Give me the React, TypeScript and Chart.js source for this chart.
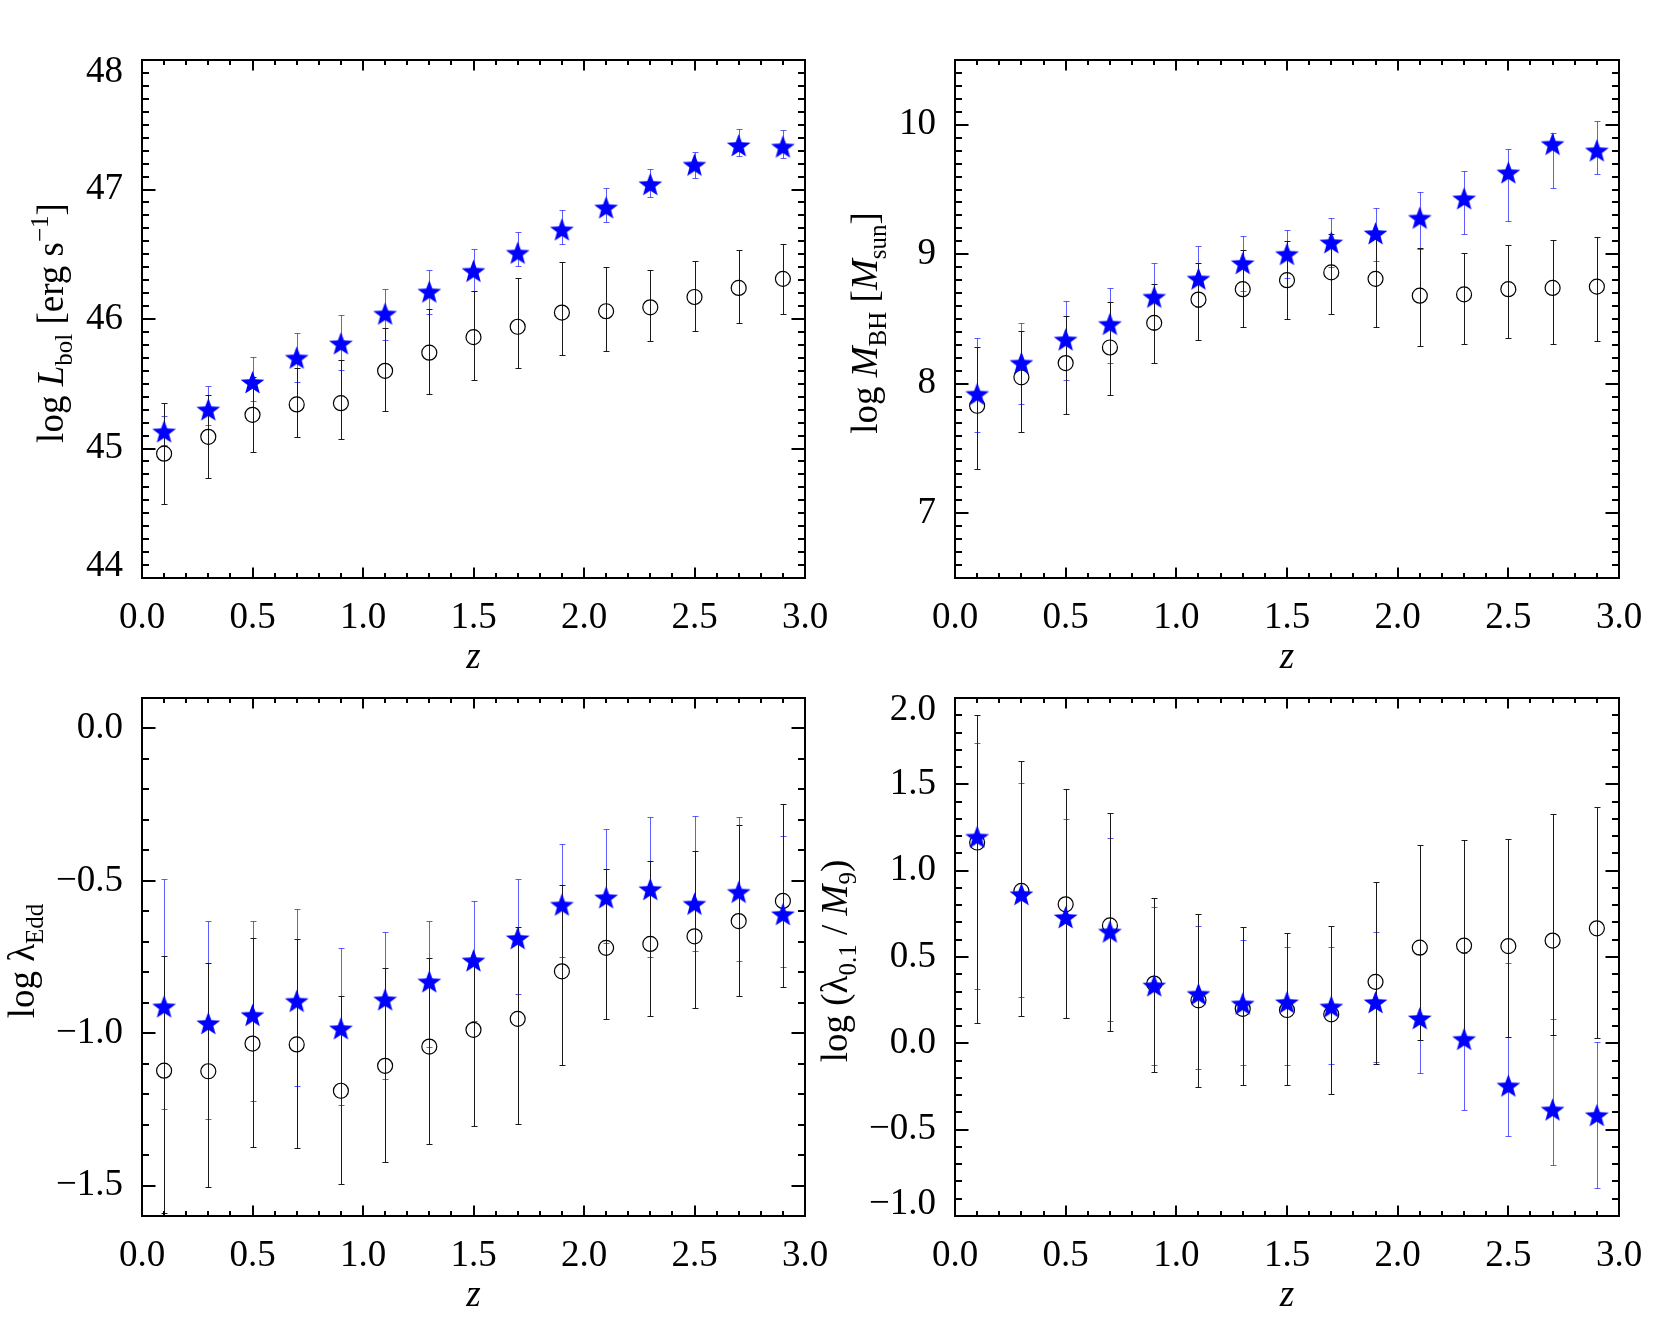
import React, { useEffect, useRef } from 'react';
import { Chart, registerables } from 'chart.js';

Chart.register(...registerables);

// ---------------- data ----------------
const Z = [0.1, 0.3, 0.5, 0.7, 0.9, 1.1, 1.3, 1.5, 1.7, 1.9, 2.1, 2.3, 2.5, 2.7, 2.9];

// log L_bol
const LBOL_QSO = [45.13, 45.30, 45.51, 45.70, 45.81, 46.04, 46.21, 46.37, 46.51, 46.69, 46.86, 47.04, 47.19, 47.34, 47.33];
const LBOL_QSO_LO = [45.03, 45.18, 45.37, 45.51, 45.61, 45.84, 46.04, 46.22, 46.41, 46.58, 46.75, 46.94, 47.09, 47.26, 47.24];
const LBOL_QSO_HI = [45.25, 45.48, 45.71, 45.89, 46.03, 46.23, 46.38, 46.54, 46.67, 46.84, 47.01, 47.16, 47.29, 47.47, 47.46];
const LBOL_ALL = [44.96, 45.09, 45.26, 45.34, 45.35, 45.60, 45.74, 45.86, 45.94, 46.05, 46.06, 46.09, 46.17, 46.24, 46.31];
const LBOL_ALL_LO = [44.57, 44.77, 44.97, 45.09, 45.07, 45.29, 45.42, 45.53, 45.62, 45.72, 45.75, 45.83, 45.91, 45.97, 46.04];
const LBOL_ALL_HI = [45.35, 45.41, 45.55, 45.62, 45.68, 45.93, 46.08, 46.22, 46.32, 46.44, 46.40, 46.38, 46.45, 46.53, 46.58];

// log M_BH
const MBH_QSO = [7.92, 8.16, 8.34, 8.46, 8.67, 8.81, 8.93, 9.00, 9.09, 9.16, 9.28, 9.43, 9.63, 9.85, 9.80];
const MBH_QSO_LO = [7.63, 7.84, 8.03, 8.16, 8.42, 8.59, 8.72, 8.82, 8.90, 8.95, 9.04, 9.16, 9.26, 9.51, 9.62];
const MBH_QSO_HI = [8.35, 8.47, 8.64, 8.74, 8.93, 9.06, 9.14, 9.19, 9.28, 9.36, 9.48, 9.64, 9.81, 9.94, 10.03];
const MBH_ALL = [7.83, 8.05, 8.16, 8.28, 8.47, 8.65, 8.73, 8.80, 8.86, 8.81, 8.68, 8.69, 8.73, 8.74, 8.75];
const MBH_ALL_LO = [7.34, 7.63, 7.77, 7.91, 8.16, 8.34, 8.44, 8.50, 8.54, 8.44, 8.29, 8.31, 8.35, 8.31, 8.33];
const MBH_ALL_HI = [8.28, 8.41, 8.52, 8.63, 8.77, 8.93, 9.03, 9.10, 9.16, 9.18, 9.05, 9.01, 9.07, 9.11, 9.13];

// log lambda_Edd
const EDD_QSO = [-0.913, -0.968, -0.941, -0.895, -0.985, -0.890, -0.831, -0.762, -0.689, -0.579, -0.555, -0.528, -0.576, -0.537, -0.610];
const EDD_QSO_LO = [-1.250, -1.282, -1.223, -1.172, -1.237, -1.150, -1.047, -0.961, -0.873, -0.749, -0.704, -0.750, -0.730, -0.764, -0.784];
const EDD_QSO_HI = [-0.493, -0.632, -0.632, -0.594, -0.722, -0.668, -0.632, -0.566, -0.493, -0.379, -0.331, -0.292, -0.286, -0.289, -0.353];
const EDD_ALL = [-1.123, -1.125, -1.034, -1.037, -1.189, -1.107, -1.044, -0.989, -0.953, -0.797, -0.720, -0.707, -0.682, -0.632, -0.566];
const EDD_ALL_LO = [-1.590, -1.506, -1.372, -1.377, -1.494, -1.423, -1.365, -1.303, -1.299, -1.103, -0.952, -0.945, -0.917, -0.879, -0.847];
const EDD_ALL_HI = [-0.748, -0.771, -0.687, -0.690, -0.879, -0.785, -0.753, -0.752, -0.652, -0.514, -0.460, -0.435, -0.402, -0.317, -0.247];

// log (lambda_0.1 / M_9)
const RATIO_QSO = [1.195, 0.863, 0.729, 0.646, 0.334, 0.285, 0.229, 0.237, 0.212, 0.237, 0.144, 0.024, -0.246, -0.385, -0.417];
const RATIO_QSO_LO = [0.317, 0.266, 0.149, 0.132, -0.124, -0.146, -0.124, -0.124, -0.117, -0.110, -0.171, -0.388, -0.537, -0.702, -0.837];
const RATIO_QSO_HI = [1.737, 1.505, 1.300, 1.188, 0.790, 0.678, 0.598, 0.559, 0.559, 0.644, 0.520, 0.524, 0.463, 0.139, 0.005];
const RATIO_ALL = [1.163, 0.883, 0.805, 0.683, 0.346, 0.249, 0.200, 0.193, 0.168, 0.356, 0.554, 0.566, 0.563, 0.595, 0.666];
const RATIO_ALL_LO = [0.120, 0.156, 0.149, 0.071, -0.166, -0.251, -0.244, -0.239, -0.295, -0.117, 0.020, 0.000, 0.034, 0.046, 0.029];
const RATIO_ALL_HI = [1.902, 1.637, 1.471, 1.332, 0.844, 0.751, 0.676, 0.637, 0.678, 0.937, 1.151, 1.176, 1.183, 1.329, 1.371];

// ticks
const X_TICKS = [0.0, 0.5, 1.0, 1.5, 2.0, 2.5, 3.0];
const Y_TICKS_LBOL = [44, 45, 46, 47, 48];
const Y_TICKS_MBH = [7, 8, 9, 10];
const Y_TICKS_EDD = [-1.5, -1.0, -0.5, 0.0];
const Y_TICKS_RATIO = [-1.0, -0.5, 0.0, 0.5, 1.0, 1.5, 2.0];

const X_TITLE = 'z';

type Seg = { t: string; it?: boolean; sub?: boolean; sup?: boolean };
const TITLE_LBOL: Seg[] = [{ t: 'log ' }, { t: 'L', it: true }, { t: 'bol', sub: true }, { t: ' [erg s' }, { t: '−1', sup: true }, { t: ']' }];
const TITLE_MBH: Seg[] = [{ t: 'log ' }, { t: 'M', it: true }, { t: 'BH', sub: true }, { t: ' [' }, { t: 'M', it: true }, { t: 'sun', sub: true }, { t: ']' }];
const TITLE_EDD: Seg[] = [{ t: 'log λ' }, { t: 'Edd', sub: true }];
const TITLE_RATIO: Seg[] = [{ t: 'log (λ' }, { t: '0.1', sub: true }, { t: ' / ' }, { t: 'M', it: true }, { t: '9', sub: true }, { t: ')' }];

// ---------------- style / layout ----------------
const FONT = '"Liberation Serif", "DejaVu Serif", serif';
const TICK_SIZE = 37;
const TITLE_SIZE = 37;
const SUB_SIZE = 25;
const STAR_COLOR = '#0000ff';
const STAR_ERR = 'rgba(40,40,255,0.75)';
const ALL_ERR = '#1a1a1a';

interface Panel {
  x: number; y: number; w: number; h: number;
  fl: number; ft: number; fr: number; fb: number;
  yMin: number; yMax: number; yTicks: number[]; yDec: number;
  title: Seg[]; titleX: number;
  qso: number[]; qsoLo: number[]; qsoHi: number[];
  all: number[]; allLo: number[]; allHi: number[];
}

const PANELS: Panel[] = [
  { x: 0, y: 0, w: 830, h: 700, fl: 142, ft: 60, fr: 805, fb: 578,
    yMin: 44, yMax: 48, yTicks: Y_TICKS_LBOL, yDec: 0, title: TITLE_LBOL, titleX: 63,
    qso: LBOL_QSO, qsoLo: LBOL_QSO_LO, qsoHi: LBOL_QSO_HI, all: LBOL_ALL, allLo: LBOL_ALL_LO, allHi: LBOL_ALL_HI },
  { x: 790, y: 0, w: 871, h: 700, fl: 165, ft: 60, fr: 829, fb: 578,
    yMin: 6.5, yMax: 10.5, yTicks: Y_TICKS_MBH, yDec: 0, title: TITLE_MBH, titleX: 87,
    qso: MBH_QSO, qsoLo: MBH_QSO_LO, qsoHi: MBH_QSO_HI, all: MBH_ALL, allLo: MBH_ALL_LO, allHi: MBH_ALL_HI },
  { x: 0, y: 664, w: 830, h: 665, fl: 142, ft: 34, fr: 805, fb: 552,
    yMin: -1.6, yMax: 0.1, yTicks: Y_TICKS_EDD, yDec: 1, title: TITLE_EDD, titleX: 34,
    qso: EDD_QSO, qsoLo: EDD_QSO_LO, qsoHi: EDD_QSO_HI, all: EDD_ALL, allLo: EDD_ALL_LO, allHi: EDD_ALL_HI },
  { x: 790, y: 664, w: 871, h: 665, fl: 165, ft: 34, fr: 829, fb: 552,
    yMin: -1.0, yMax: 2.0, yTicks: Y_TICKS_RATIO, yDec: 1, title: TITLE_RATIO, titleX: 57,
    qso: RATIO_QSO, qsoLo: RATIO_QSO_LO, qsoHi: RATIO_QSO_HI, all: RATIO_ALL, allLo: RATIO_ALL_LO, allHi: RATIO_ALL_HI },
];

function fmt(v: number, dec: number): string {
  const s = Math.abs(v).toFixed(dec);
  return v < -1e-9 ? '−' + s : s;
}

function makeStar(R: number, color: string): HTMLCanvasElement {
  const size = Math.ceil(R * 2 + 2);
  const c = document.createElement('canvas');
  c.width = size;
  c.height = size;
  const ctx = c.getContext('2d')!;
  const cx = size / 2;
  const cy = size / 2 + R * 0.08;
  ctx.beginPath();
  for (let i = 0; i < 10; i++) {
    const r = i % 2 === 0 ? R : R * 0.42;
    const a = -Math.PI / 2 + (i * Math.PI) / 5;
    ctx.lineTo(cx + r * Math.cos(a), cy + r * Math.sin(a));
  }
  ctx.closePath();
  ctx.fillStyle = color;
  ctx.fill();
  return c;
}

const errorBarPlugin = {
  id: 'errbars',
  beforeDatasetsDraw(chart: any) {
    const ctx = chart.ctx;
    const xs = chart.scales.x;
    const ys = chart.scales.y;
    const order = [0, 1];
    order.forEach((di) => {
      const ds = chart.data.datasets[di];
      ctx.save();
      ctx.strokeStyle = ds.errColor;
      ctx.lineWidth = 1;
      ds.data.forEach((pt: any, i: number) => {
        const x = Math.round(xs.getPixelForValue(pt.x)) + 0.5;
        const y1 = Math.round(ys.getPixelForValue(ds.errLo[i])) + 0.5;
        const y2 = Math.round(ys.getPixelForValue(ds.errHi[i])) + 0.5;
        ctx.beginPath();
        ctx.moveTo(x, y1);
        ctx.lineTo(x, y2);
        ctx.moveTo(x - 3, y1);
        ctx.lineTo(x + 3, y1);
        ctx.moveTo(x - 3, y2);
        ctx.lineTo(x + 3, y2);
        ctx.stroke();
      });
      ctx.restore();
    });
  },
};

function drawRich(ctx: CanvasRenderingContext2D, segs: Seg[]) {
  const fontOf = (s: Seg) => `${s.it ? 'italic ' : ''}${s.sub || s.sup ? SUB_SIZE : TITLE_SIZE}px ${FONT}`;
  let total = 0;
  const widths = segs.map((s) => {
    ctx.font = fontOf(s);
    const w = ctx.measureText(s.t).width;
    total += w;
    return w;
  });
  let u = -total / 2;
  ctx.textBaseline = 'alphabetic';
  ctx.textAlign = 'left';
  segs.forEach((s, i) => {
    ctx.font = fontOf(s);
    const v = s.sub ? 9 : s.sup ? -15 : 0;
    ctx.fillText(s.t, u, v);
    u += widths[i];
  });
}

function makeFramePlugin(p: Panel) {
  return {
    id: 'frame',
    afterDraw(chart: any) {
      const ctx = chart.ctx;
      const { left, top, right, bottom } = chart.chartArea;
      const xs = chart.scales.x;
      const ys = chart.scales.y;
      ctx.save();
      ctx.strokeStyle = '#000';
      ctx.lineWidth = 2;
      ctx.strokeRect(left, top, right - left, bottom - top);
      ctx.beginPath();
      for (let k = 0; k <= 30; k++) {
        const v = k / 10;
        const major = X_TICKS.some((t) => Math.abs(t - v) < 1e-6);
        const len = major ? 10.5 : 5;
        const px = Math.round(xs.getPixelForValue(v));
        ctx.moveTo(px, bottom);
        ctx.lineTo(px, bottom - len);
        ctx.moveTo(px, top);
        ctx.lineTo(px, top + len);
      }
      const k0 = Math.ceil(p.yMin * 10 - 1e-6);
      const k1 = Math.floor(p.yMax * 10 + 1e-6);
      for (let k = k0; k <= k1; k++) {
        const v = k / 10;
        const major = p.yTicks.some((t) => Math.abs(t - v) < 1e-6);
        const len = major ? 13.5 : 7;
        const py = Math.round(ys.getPixelForValue(v));
        ctx.moveTo(left, py);
        ctx.lineTo(left + len, py);
        ctx.moveTo(right, py);
        ctx.lineTo(right - len, py);
      }
      ctx.stroke();

      // titles
      ctx.fillStyle = '#000';
      ctx.save();
      ctx.translate(p.titleX, (top + bottom) / 2 + 4);
      ctx.rotate(-Math.PI / 2);
      drawRich(ctx, p.title);
      ctx.restore();

      ctx.font = `italic ${TITLE_SIZE}px ${FONT}`;
      ctx.textAlign = 'center';
      ctx.textBaseline = 'alphabetic';
      ctx.fillText(X_TITLE, (left + right) / 2, bottom + 90);
      ctx.restore();
    },
  };
}

function buildConfig(p: Panel): any {
  const star = makeStar(12.5, STAR_COLOR);
  return {
    type: 'scatter',
    data: {
      datasets: [
        {
          label: 'qso',
          data: Z.map((x, i) => ({ x, y: p.qso[i] })),
          pointStyle: star,
          pointRadius: 13,
          backgroundColor: STAR_COLOR,
          borderWidth: 0,
          errLo: p.qsoLo,
          errHi: p.qsoHi,
          errColor: STAR_ERR,
        },
        {
          label: 'all',
          data: Z.map((x, i) => ({ x, y: p.all[i] })),
          pointStyle: 'circle',
          pointRadius: 7.5,
          borderColor: '#000',
          borderWidth: 1.2,
          backgroundColor: 'rgba(0,0,0,0)',
          errLo: p.allLo,
          errHi: p.allHi,
          errColor: ALL_ERR,
        },
      ],
    },
    options: {
      animation: false,
      responsive: false,
      devicePixelRatio: 1,
      events: [],
      layout: { padding: { left: 0, top: p.ft, right: p.w - p.fr, bottom: 0 } },
      plugins: { legend: { display: false }, tooltip: { enabled: false } },
      scales: {
        x: {
          type: 'linear',
          min: 0,
          max: 3,
          grid: { display: false },
          border: { display: false },
          ticks: {
            color: '#000',
            font: { family: FONT, size: TICK_SIZE },
            padding: 10,
            maxRotation: 0,
            autoSkip: false,
            callback: (v: any) => fmt(Number(v), 1),
          },
          afterBuildTicks: (s: any) => {
            s.ticks = X_TICKS.map((v) => ({ value: v }));
          },
          afterFit: (s: any) => {
            s.height = p.h - p.fb;
            s.paddingLeft = 0;
            s.paddingRight = 0;
            s.paddingTop = 0;
            s.paddingBottom = 0;
          },
        },
        y: {
          type: 'linear',
          min: p.yMin,
          max: p.yMax,
          grid: { display: false },
          border: { display: false },
          ticks: {
            color: '#000',
            font: { family: FONT, size: TICK_SIZE, lineHeight: '24px' },
            padding: 11,
            autoSkip: false,
            callback: (v: any) => {
              const n = Number(v);
              const s = fmt(n, p.yDec);
              if (Math.abs(n - p.yMax) < 1e-6) return ['', s];
              if (Math.abs(n - p.yMin) < 1e-6) return [s, ''];
              return s;
            },
          },
          afterBuildTicks: (s: any) => {
            s.ticks = p.yTicks.map((v) => ({ value: v }));
          },
          afterFit: (s: any) => {
            s.width = p.fl;
            s.paddingLeft = 0;
            s.paddingRight = 0;
            s.paddingTop = 0;
            s.paddingBottom = 0;
          },
        },
      },
    },
    plugins: [errorBarPlugin, makeFramePlugin(p)],
  };
}

function PanelChart({ p }: { p: Panel }) {
  const ref = useRef<HTMLCanvasElement>(null);
  useEffect(() => {
    const chart = new Chart(ref.current as HTMLCanvasElement, buildConfig(p));
    return () => chart.destroy();
  }, [p]);
  return (
    <canvas
      ref={ref}
      width={p.w}
      height={p.h}
      style={{ position: 'absolute', left: p.x, top: p.y, width: p.w, height: p.h }}
    />
  );
}

export default function App() {
  return (
    <div style={{ position: 'absolute', left: 0, top: 0, width: 1661, height: 1329, background: '#fff', overflow: 'hidden' }}>
      {PANELS.map((p, i) => (
        <PanelChart key={i} p={p} />
      ))}
    </div>
  );
}
